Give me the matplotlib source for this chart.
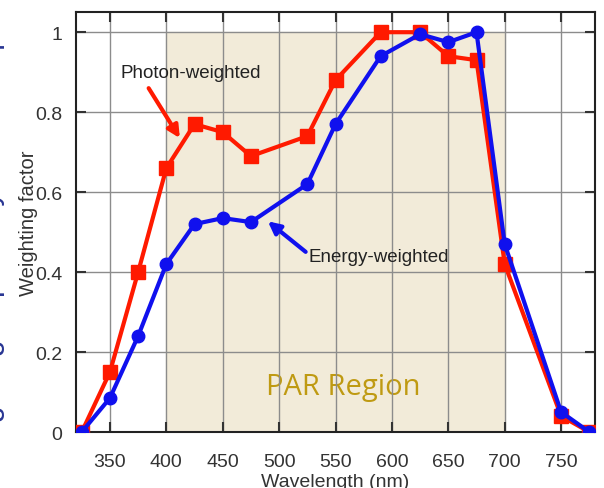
import matplotlib.pyplot as plt

# wavelength (nm) and weighting factors
wl = [325, 350, 375, 400, 425, 450, 475, 525, 550, 590, 625, 650, 675, 700, 750, 775]
photon = [0.0, 0.15, 0.40, 0.66, 0.77, 0.75, 0.69, 0.74, 0.88, 1.0, 1.0, 0.94, 0.93, 0.42, 0.04, 0.0]
energy = [0.0, 0.085, 0.24, 0.42, 0.52, 0.535, 0.525, 0.62, 0.77, 0.94, 0.995, 0.975, 1.0, 0.47, 0.05, 0.0]
par_lo, par_hi = 400, 700
xticks = [350, 400, 450, 500, 550, 600, 650, 700, 750]
yticks = [0, 0.2, 0.4, 0.6, 0.8, 1.0]
yticklabels = ['0', '0.2', '0.4', '0.6', '0.8', '1']

plt.rcParams['font.family'] = ['Liberation Sans', 'DejaVu Sans']

fig = plt.figure(figsize=(6.04, 4.89), dpi=100)
ax = fig.add_axes([0.126, 0.1145, 0.859, 0.8585])

ax.fill_between([par_lo, par_hi], 0, 1, color='#f2ebd9', zorder=0)
ax.set_axisbelow(True)
ax.grid(True, color='#8c8c8c', lw=1)

# label sits under the grid lines like in the original
ax.text(557, 0.113, 'PAR Region', fontsize=21, color='#bf9a12',
        family=['Open Sans', 'DejaVu Sans'], ha='center', va='center', zorder=0.2)

ax.plot(wl, photon, color='#ff1a00', lw=3, marker='s', ms=10, zorder=3)
ax.plot(wl, energy, color='#1010ee', lw=3, marker='o', ms=9, zorder=4)

ax.set_xlim(320, 780)
ax.set_ylim(0, 1.05)
ax.set_xticks(xticks)
ax.set_yticks(yticks)
ax.set_yticklabels(yticklabels)
ax.tick_params(direction='in', length=7, width=1.5, top=True, right=True,
               labelsize=14, colors='#333333', pad=15)
ax.tick_params(axis='y', pad=10)
for s in ax.spines.values():
    s.set_linewidth(1.5)
    s.set_color('#222222')

ax.set_xlabel('Wavelength (nm)', fontsize=14, labelpad=2, color='#333333')
ax.set_ylabel('Weighting factor', fontsize=14.5, labelpad=-2, color='#333333')

ax.annotate('Photon-weighted', xy=(412, 0.735), xytext=(359, 0.9),
            fontsize=13.5, color='#222222', va='center', ha='left',
            arrowprops=dict(arrowstyle='-|>', color='#ff1a00', lw=3,
                            mutation_scale=18, shrinkA=4, shrinkB=0,
                            relpos=(0.17, 0.0)))
ax.annotate('Energy-weighted', xy=(490, 0.527), xytext=(526, 0.44),
            fontsize=13.5, color='#222222', va='center', ha='left',
            arrowprops=dict(arrowstyle='-|>', color='#1010ee', lw=3,
                            mutation_scale=18, shrinkA=0, shrinkB=0,
                            relpos=(-0.02, 0.75)))

# clipped neighbouring label on the left edge
fig.text(-0.016, 0.55, 'Weighting of photosynthetic response',
         rotation=90, fontsize=22, color='#283593', ha='center', va='center')

fig.savefig('out.png', dpi=100)
